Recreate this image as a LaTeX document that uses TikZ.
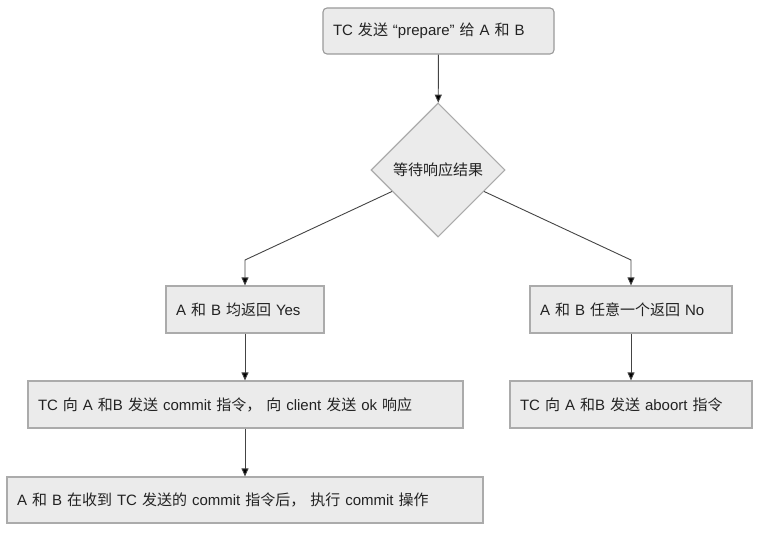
\documentclass[tikz,border=0pt]{standalone}
\usepackage{fontspec}
\setmainfont{Liberation Sans}
\newfontfamily\cjk{Noto Sans CJK SC}
\newcommand{\zh}[1]{{\cjk #1}}
\usetikzlibrary{shapes.geometric,arrows.meta}
\definecolor{boxfill}{HTML}{EBEBEB}
\definecolor{boxline}{HTML}{ABABAB}
\definecolor{linecol}{HTML}{444444}
\definecolor{txt}{HTML}{222222}
\tikzset{
  box/.style={draw=boxline, fill=boxfill, line width=1.1pt, inner xsep=10pt, inner ysep=0pt,
    minimum height=47pt, align=left, text=txt, font=\fontsize{15}{18}\selectfont, anchor=center},
  rbox/.style={box, rounded corners=4pt, draw=boxline!90!black},
  dec/.style={diamond, draw=boxline, fill=boxfill, line width=1.1pt, minimum width=134pt,
    minimum height=134pt, inner sep=0pt, text=txt, font=\fontsize{15}{18}\selectfont},
  arr/.style={draw=linecol, line width=0.9pt, -{Triangle[length=8pt,width=7pt,fill=black]}},
}
\begin{document}
\begin{tikzpicture}[x=1pt,y=-1pt]
\useasboundingbox (0,0) rectangle (762,534);
\node[rbox, text width=211pt, minimum height=46pt] (top) at (438.5,31) {TC \zh{发送} “prepare” \zh{给} A \zh{和} B};
\node[dec] (dia) at (438,170) {\zh{等待响应结果}};
\node[box, text width=138pt] (yes) at (245,309.5) {A \zh{和} B \zh{均返回} Yes};
\node[box, text width=182pt] (no) at (631,309.5) {A \zh{和} B \zh{任意一个返回} No};
\node[box, text width=415pt] (commit) at (245.5,404.5) {TC \zh{向} A \zh{和}B \zh{发送} commit \zh{指令，} \zh{向} client \zh{发送} ok \zh{响应}};
\node[box, text width=222pt] (abort) at (631,404.5) {TC \zh{向} A \zh{和}B \zh{发送} aboort \zh{指令}};
\node[box, text width=456pt, minimum height=46pt] (final) at (245,500) {A \zh{和} B \zh{在收到} TC \zh{发送的} commit \zh{指令后，} \zh{执行} commit \zh{操作}};
\coordinate (eL) at (245,260);
\coordinate (eR) at (631,260);
\draw[arr] (top) -- (dia);
\draw[arr] (dia) -- (eL) -- (yes.north);
\draw[arr] (dia) -- (eR) -- (no.north);
\draw[arr] (yes.south) -- (yes.south |- commit.north);
\draw[arr] (no.south) -- (abort.north);
\draw[arr] (commit.south -| yes.south) -- (final.north -| yes.south);
\end{tikzpicture}
\end{document}
